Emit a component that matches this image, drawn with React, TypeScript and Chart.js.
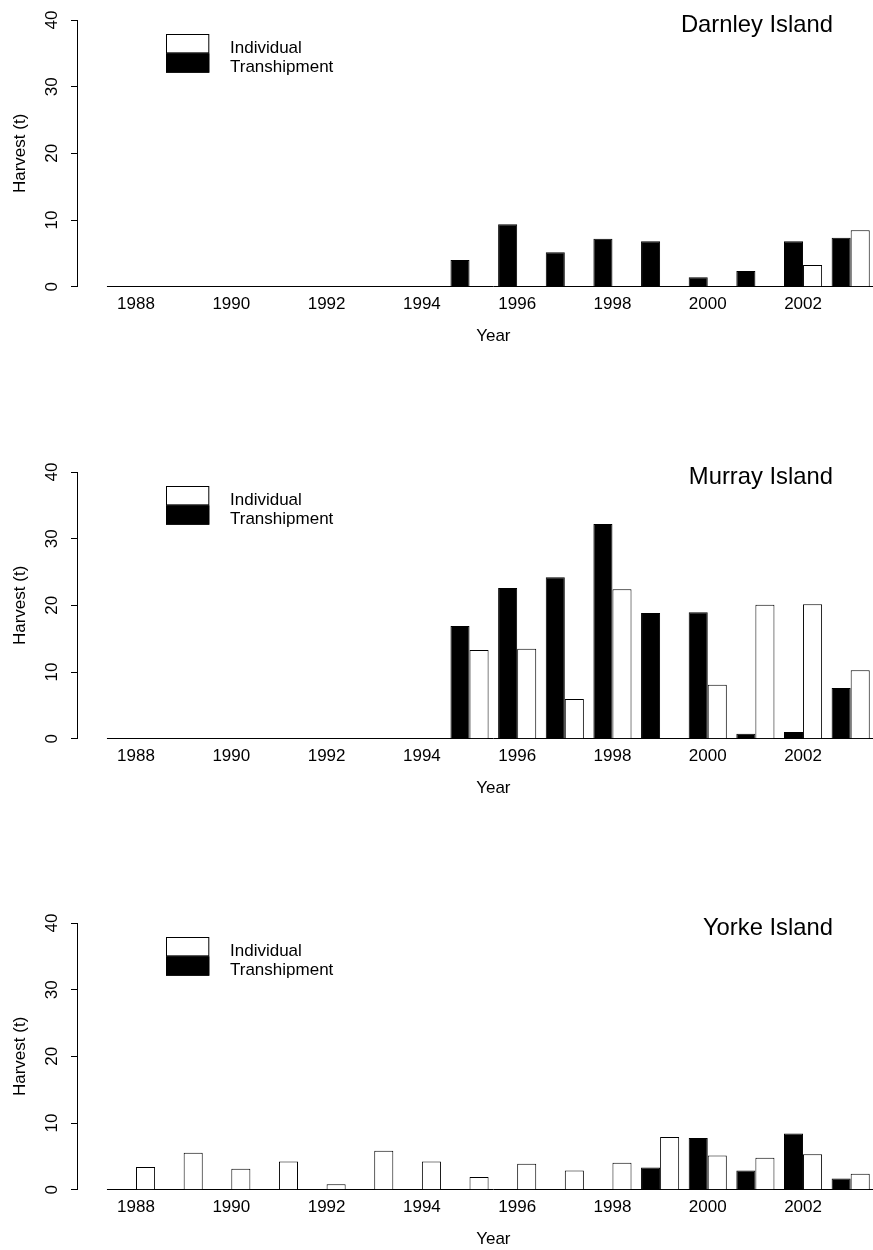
import React, { useEffect, useRef } from 'react';
import { Chart, registerables } from 'chart.js';

Chart.register(...registerables);

const YEARS = ['1988', '1989', '1990', '1991', '1992', '1993', '1994', '1995', '1996', '1997', '1998', '1999', '2000', '2001', '2002', '2003'];
const X_TICK_LABELS = ['1988', '1990', '1992', '1994', '1996', '1998', '2000', '2002'];
const Y_TICKS = [0, 10, 20, 30, 40];

const DARNLEY_TRANSHIPMENT = [0, 0, 0, 0, 0, 0, 0, 4.0, 9.35, 5.15, 7.2, 6.8, 1.4, 2.35, 6.8, 7.35];
const DARNLEY_INDIVIDUAL = [0, 0, 0, 0, 0, 0, 0, 0, 0, 0, 0, 0, 0, 0, 3.25, 8.45];

const MURRAY_TRANSHIPMENT = [0, 0, 0, 0, 0, 0, 0, 16.9, 22.6, 24.2, 32.2, 18.85, 18.95, 0.75, 1.0, 7.6];
const MURRAY_INDIVIDUAL = [0, 0, 0, 0, 0, 0, 0, 13.3, 13.5, 5.97, 22.4, 0, 8.1, 20.1, 20.15, 10.25];

const YORKE_TRANSHIPMENT = [0, 0, 0, 0, 0, 0, 0, 0, 0, 0, 0, 3.34, 7.77, 2.89, 8.42, 1.69];
const YORKE_INDIVIDUAL = [3.4, 5.53, 3.14, 4.23, 0.8, 5.83, 4.23, 1.9, 3.89, 2.89, 4.04, 7.92, 5.13, 4.78, 5.33, 2.39];

const FONT = '"Liberation Sans", Arial, Helvetica, sans-serif';

const detachYAxis = {
  id: 'detachYAxis',
  afterLayout(chart: any) {
    const y = chart.scales.y;
    y.right = chart.chartArea.left - 35.2;
  },
};

const baselineLead = {
  id: 'baselineLead',
  afterDatasetsDraw(chart: any) {
    const { ctx, chartArea } = chart;
    const x = chart.scales.x;
    const y = chart.scales.y;
    const start = x.getPixelForValue(0) - 0.61 * (x.getPixelForValue(1) - x.getPixelForValue(0));
    const py = Math.round(y.getPixelForValue(0)) - 0.5;
    ctx.save();
    ctx.strokeStyle = '#000';
    ctx.lineWidth = 1;
    ctx.beginPath();
    ctx.moveTo(start, py);
    ctx.lineTo(chartArea.left + 1, py);
    ctx.stroke();
    ctx.restore();
  },
};

const rLegend = {
  id: 'rLegend',
  afterDraw(chart: any) {
    const { ctx, chartArea } = chart;
    const x = chartArea.left + 53.8;
    const y0 = chartArea.top + 14;
    const w = 43.3;
    const h = 19.35;
    const items = [chart.data.datasets[1], chart.data.datasets[0]];
    ctx.save();
    items.forEach((ds: any, i: number) => {
      const y = y0 + i * h;
      ctx.fillStyle = ds.backgroundColor;
      ctx.fillRect(x, y, w, h);
      ctx.strokeStyle = '#000';
      ctx.lineWidth = 1;
      ctx.strokeRect(x + 0.5, y + 0.5, w - 1, h - 1);
      ctx.fillStyle = '#000';
      ctx.font = `17px ${FONT}`;
      ctx.textAlign = 'left';
      ctx.textBaseline = 'alphabetic';
      ctx.fillText(ds.label, chartArea.left + 117.8, y + 19);
    });
    ctx.restore();
  },
};

const islandTitle = {
  id: 'islandTitle',
  afterDraw(chart: any, _args: any, opts: any) {
    const { ctx, chartArea } = chart;
    ctx.save();
    ctx.fillStyle = '#000';
    ctx.font = `23.8px ${FONT}`;
    ctx.textAlign = 'right';
    ctx.textBaseline = 'alphabetic';
    ctx.fillText(opts.text, chartArea.right - 41.5, chartArea.top + 11.7);
    ctx.restore();
  },
};

function Panel({ title, individual, transhipment, top }: { title: string; individual: number[]; transhipment: number[]; top: number }) {
  const ref = useRef<HTMLCanvasElement>(null);
  useEffect(() => {
    const chart = new Chart(ref.current as HTMLCanvasElement, {
      type: 'bar',
      data: {
        labels: YEARS,
        datasets: [
          { label: 'Transhipment', data: transhipment, backgroundColor: '#000', borderColor: '#000', borderWidth: 1 },
          { label: 'Individual', data: individual, backgroundColor: '#fff', borderColor: '#000', borderWidth: 1 },
        ],
      },
      options: {
        animation: false,
        responsive: false,
        devicePixelRatio: 1,
        datasets: { bar: { categoryPercentage: 0.8, barPercentage: 1.0 } },
        layout: { padding: { top: 20, left: 0, right: 0.5, bottom: 0 } },
        plugins: {
          legend: { display: false },
          tooltip: { enabled: false },
          islandTitle: { text: title },
        } as any,
        scales: {
          x: {
            type: 'category',
            offset: true,
            grid: { display: false, drawTicks: false },
            border: { display: true, color: '#000', width: 1 },
            ticks: {
              autoSkip: false,
              maxRotation: 0,
              minRotation: 0,
              padding: 7,
              color: '#000',
              font: { family: FONT, size: 17 },
              callback: (_v: any, index: number) => (X_TICK_LABELS.includes(YEARS[index]) ? YEARS[index] : ''),
            },
            title: { display: true, text: 'Year', color: '#000', font: { family: FONT, size: 17 }, padding: { top: 0, bottom: 0.4 } },
            afterFit: (s: any) => { s.height = 60.3; },
          },
          y: {
            min: 0,
            max: 40,
            grid: { display: true, drawOnChartArea: false, drawTicks: true, tickLength: 6, color: '#000' },
            border: { display: true, color: '#000', width: 1 },
            ticks: {
              stepSize: 10,
              minRotation: 90,
              maxRotation: 90,
              crossAlign: 'center',
              padding: 9,
              color: '#000',
              font: { family: FONT, size: 17 },
            },
            afterBuildTicks: (s: any) => { s.ticks = Y_TICKS.map((v) => ({ value: v })); },
            title: { display: true, text: 'Harvest (t)', color: '#000', font: { family: FONT, size: 17 }, padding: { top: 9.8, bottom: 0 } },
            afterFit: (s: any) => { s.width = 112.2; },
          },
        },
      } as any,
      plugins: [detachYAxis, baselineLead, rLegend, islandTitle],
    });
    return () => chart.destroy();
  }, []);
  return (
    <canvas
      ref={ref}
      width={875}
      height={347}
      style={{ position: 'absolute', left: 0, top, width: 875, height: 347, display: 'block' }}
    />
  );
}

export default function App() {
  return (
    <div style={{ position: 'absolute', left: 0, top: 0, width: 873, height: 1250, overflow: 'hidden', background: '#fff' }}>
      <Panel title="Darnley Island" individual={DARNLEY_INDIVIDUAL} transhipment={DARNLEY_TRANSHIPMENT} top={0} />
      <Panel title="Murray Island" individual={MURRAY_INDIVIDUAL} transhipment={MURRAY_TRANSHIPMENT} top={451.5} />
      <Panel title="Yorke Island" individual={YORKE_INDIVIDUAL} transhipment={YORKE_TRANSHIPMENT} top={903} />
    </div>
  );
}
